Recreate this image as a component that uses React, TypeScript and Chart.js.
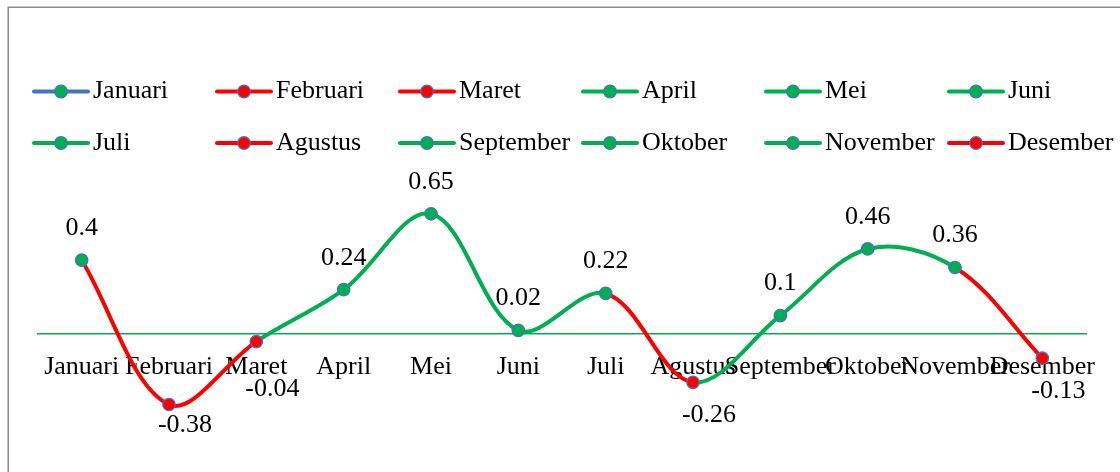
import React, { useEffect, useRef } from "react";
import { Chart, registerables } from "chart.js";

Chart.register(...registerables);

const months: string[] = [
  "Januari", "Februari", "Maret", "April", "Mei", "Juni",
  "Juli", "Agustus", "September", "Oktober", "November", "Desember",
];
const values: number[] = [0.4, -0.38, -0.04, 0.24, 0.65, 0.02, 0.22, -0.26, 0.1, 0.46, 0.36, -0.13];

const GREEN = "#00B050";
const RED = "#FF0000";
const BLUE = "#4472C4";
const FONT = "'Liberation Serif', 'Times New Roman', serif";
const FONT_SIZE = 26;

const pointColor = (v: number) => (v < 0 ? RED : GREEN);

const framePlugin = {
  id: "frame",
  beforeDraw(chart: any) {
    const ctx = chart.ctx;
    ctx.save();
    ctx.strokeStyle = "#8c8c8c";
    ctx.lineWidth = 1.5;
    ctx.strokeRect(8.25, 7.25, 1400, 1000);
    ctx.restore();
  },
};

const legendPlugin = {
  id: "customLegend",
  afterDraw(chart: any) {
    const ctx = chart.ctx;
    ctx.save();
    ctx.font = `${FONT_SIZE}px ${FONT}`;
    ctx.textBaseline = "middle";
    ctx.textAlign = "left";
    months.forEach((m, i) => {
      const col = i % 6;
      const row = Math.floor(i / 6);
      const x0 = 34 + 183 * col;
      const y = 91.5 + 51.5 * row;
      const lineColor = i === 0 ? BLUE : pointColor(values[i]);
      ctx.strokeStyle = lineColor;
      ctx.lineWidth = 4;
      ctx.lineCap = "round";
      ctx.beginPath();
      ctx.moveTo(x0, y);
      ctx.lineTo(x0 + 54, y);
      ctx.stroke();
      ctx.beginPath();
      ctx.arc(x0 + 27, y, 6.3, 0, Math.PI * 2);
      ctx.fillStyle = pointColor(values[i]);
      ctx.fill();
      ctx.strokeStyle = BLUE;
      ctx.lineWidth = 1.2;
      ctx.stroke();
      ctx.fillStyle = "#000";
      ctx.fillText(m, x0 + 59, y);
    });
    ctx.restore();
  },
};

const dataLabelPlugin = {
  id: "valueLabels",
  afterDatasetsDraw(chart: any) {
    const ctx = chart.ctx;
    const meta = chart.getDatasetMeta(0);
    const zeroY = chart.scales.y.getPixelForValue(0);
    const tickCenter = zeroY + 33;
    const bottom = chart.chartArea.bottom;
    ctx.save();
    ctx.font = `${FONT_SIZE}px ${FONT}`;
    ctx.textBaseline = "middle";
    ctx.textAlign = "center";
    ctx.fillStyle = "#000";
    meta.data.forEach((pt: any, i: number) => {
      const v = values[i];
      let x = pt.x;
      let y: number;
      if (v >= 0) {
        y = pt.y - 32;
      } else {
        x = pt.x + 16;
        y = pt.y + 33;
        if (Math.abs(y - tickCenter) < 20) y = tickCenter + 22;
        if (y > bottom - 11) y = bottom - 11;
      }
      ctx.fillText(String(v), x, y);
    });
    ctx.restore();
  },
};

export default function App() {
  const ref = useRef<HTMLCanvasElement | null>(null);
  useEffect(() => {
    if (!ref.current) return;
    const chart = new Chart(ref.current, {
      type: "line",
      data: {
        labels: months,
        datasets: [
          {
            data: values,
            borderWidth: 4,
            borderColor: GREEN,
            tension: 0.35,
            pointRadius: 6.2,
            pointHoverRadius: 6.2,
            pointBorderWidth: 1.3,
            pointBorderColor: BLUE,
            pointBackgroundColor: values.map(pointColor),
            segment: {
              borderColor: (c: any) => pointColor(values[c.p1DataIndex]),
            },
            clip: false as any,
          },
        ],
      },
      options: {
        responsive: false,
        animation: false,
        layout: { padding: { top: 186, bottom: 36, left: 38, right: 34 } },
        plugins: {
          legend: { display: false },
          tooltip: { enabled: false },
        },
        scales: {
          x: {
            type: "category",
            offset: true,
            position: { y: 0 } as any,
            grid: { display: false, drawTicks: false },
            border: { display: true, color: GREEN, width: 1.5 },
            ticks: {
              autoSkip: false,
              maxRotation: 0,
              color: "#000",
              padding: 17,
              font: { family: FONT, size: FONT_SIZE },
            },
          },
          y: {
            display: false,
            min: -0.55,
            max: 0.8,
          },
        },
      },
      plugins: [framePlugin, legendPlugin, dataLabelPlugin],
    });
    return () => chart.destroy();
  }, []);
  return (
    <div style={{ position: "fixed", left: 0, top: 0, width: 1120, height: 472, background: "#fff" }}>
      <canvas ref={ref} width={1120} height={472} style={{ display: "block" }} />
    </div>
  );
}
